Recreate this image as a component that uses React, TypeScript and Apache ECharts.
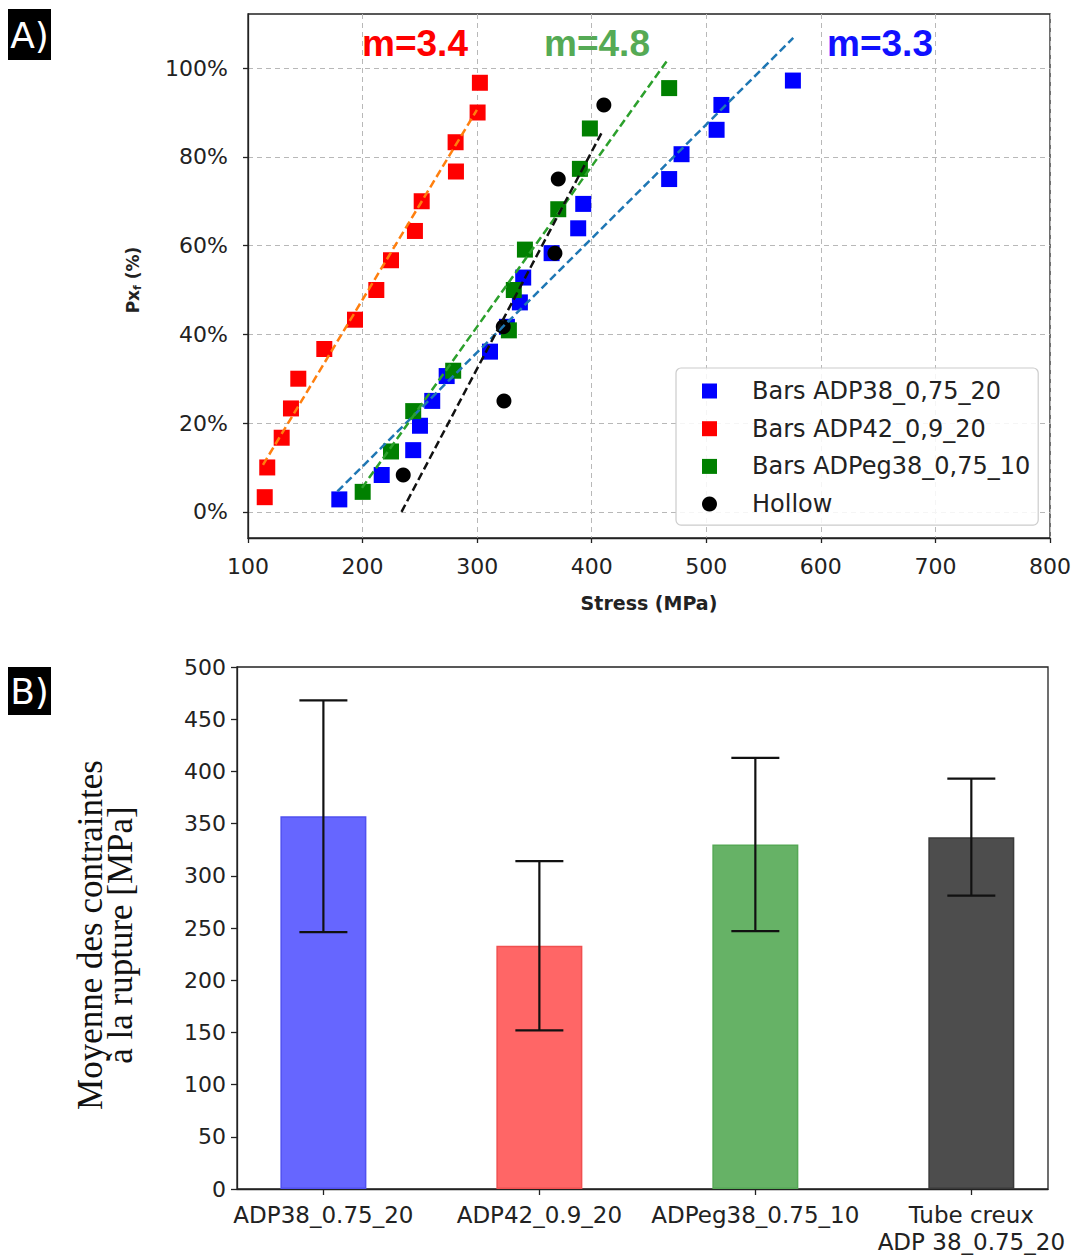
import React, { useEffect, useRef } from "react";
import * as echarts from "echarts";

// ---------- Panel A data (Stress MPa, probability %) ----------
const blueX = [179.7, 216.7, 244.2, 250.1, 260.8, 273.4, 311.2, 326, 337.3, 340.2, 365, 388.2, 392.6, 467.6, 478.4, 509, 513.2, 575.6];
const blueY = [2.8, 8.3, 13.9, 19.4, 25, 30.6, 36.1, 41.7, 47.2, 52.8, 58.3, 63.9, 69.4, 75, 80.6, 86.1, 91.7, 97.2];
const redX = [114.6, 116.8, 129.4, 137.5, 143.9, 166.6, 193.4, 212, 224.8, 245.7, 251.6, 281.5, 281.2, 300.4, 302.4];
const redY = [3.3, 10, 16.7, 23.3, 30, 36.7, 43.3, 50, 56.7, 63.3, 70, 76.7, 83.3, 90, 96.7];
const greenX = [200.1, 224.8, 244.2, 279.1, 327.7, 332, 341.7, 370.8, 389.7, 398.4, 467.6];
const greenY = [4.5, 13.6, 22.7, 31.8, 40.9, 50, 59.1, 68.2, 77.3, 86.4, 95.5];
const hollowX = [235.5, 323.4, 322.8, 367.9, 370.8, 410.6];
const hollowY = [8.3, 25, 41.7, 58.3, 75, 91.7];

// fitted lines endpoints [x, y]
const blueFit = [[178, 4.6], [575.9, 106.8]];
const redFit = [[113.1, 10.6], [299.8, 90.6]];
const greenFit = [[199.5, 5.4], [465.3, 101.5]];
const hollowFit = [[234, 0], [408.6, 85.4]];

const topYTicks = [0, 20, 40, 60, 80, 100];
const legendNames = ["Bars ADP38_0,75_20", "Bars ADP42_0,9_20", "Bars ADPeg38_0,75_10", "Hollow"];
const slopeLabels = ["m=3.4", "m=4.8", "m=3.3"];

// ---------- Panel B data ----------
const categories = ["ADP38_0.75_20", "ADP42_0.9_20", "ADPeg38_0.75_10", "Tube creux\nADP 38_0.75_20"];
const means = [357, 233, 330, 337];
const stdDevs = [111, 81, 83, 56];
const barColors = ["#6666ff", "#ff6666", "#66b266", "#4d4d4d"];
const barEdges = ["#5050f0", "#f05050", "#55a855", "#3a3a3a"];

const zip = (xs: number[], ys: number[]) => xs.map((x, i) => [x, ys[i]]);

export default function App() {
  const ref = useRef<HTMLDivElement>(null);
  useEffect(() => {
    if (!ref.current) return;
    const chart = echarts.init(ref.current, null, { renderer: "svg" });
    const tickFont = { fontFamily: "DejaVu Sans", color: "#222" };
    const dashed = (color: string) => ({ color, width: 2.5, type: [8, 4] as any });

    const option: any = {
      animation: false,
      backgroundColor: "#fff",
      grid: [
        { left: 248, top: 14, width: 802, height: 524, show: true, borderColor: "#222", borderWidth: 1.3, backgroundColor: "transparent" },
        { left: 237, top: 667, width: 811, height: 522, show: true, borderColor: "#222", borderWidth: 1.3, backgroundColor: "transparent" },
      ],
      xAxis: [
        {
          gridIndex: 0, type: "value", min: 100, max: 800, interval: 100,
          axisLine: { show: true, onZero: false, lineStyle: { color: "#222", width: 1.3 } },
          axisTick: { show: true, inside: false, length: 5, lineStyle: { color: "#222", width: 1.3 } },
          axisLabel: { ...tickFont, fontSize: 22, margin: 17 },
          splitLine: { show: true, lineStyle: { color: "#b8b8b8", width: 1, type: [5, 4] } },
          name: "Stress (MPa)", nameLocation: "middle", nameGap: 55,
          nameTextStyle: { fontFamily: "DejaVu Sans", fontWeight: "bold", fontSize: 19, color: "#222" },
        },
        {
          gridIndex: 1, type: "value", min: -0.4, max: 3.355,
          axisLine: { show: true, onZero: false, lineStyle: { color: "#222", width: 1.3 } },
          axisTick: { show: true, inside: false, length: 6, customValues: [0, 1, 2, 3], lineStyle: { color: "#222", width: 1.3 } },
          axisLabel: {
            ...tickFont, fontSize: 23, margin: 12, lineHeight: 27, customValues: [0, 1, 2, 3],
            formatter: (v: number) => categories[Math.round(v)] ?? "",
          },
          splitLine: { show: false },
        },
      ],
      yAxis: [
        {
          gridIndex: 0, type: "value", min: -5.9, max: 112.2,
          axisLine: { show: true, onZero: false, lineStyle: { color: "#222", width: 1.3 } },
          axisTick: { show: true, inside: false, length: 5, customValues: topYTicks, lineStyle: { color: "#222", width: 1.3 } },
          axisLabel: { ...tickFont, fontSize: 22, margin: 20, customValues: topYTicks, formatter: (v: number) => Math.round(v) + "%" },
          splitLine: { show: true, lineStyle: { color: "#b8b8b8", width: 1, type: [5, 4] } },
        },
        {
          gridIndex: 1, type: "value", min: 0, max: 500, interval: 50,
          axisLine: { show: true, onZero: false, lineStyle: { color: "#222", width: 1.3 } },
          axisTick: { show: true, inside: false, length: 6, lineStyle: { color: "#222", width: 1.3 } },
          axisLabel: { ...tickFont, fontSize: 22, margin: 11 },
          splitLine: { show: false },
        },
      ],
      legend: {
        left: 676, top: 368, orient: "vertical",
        data: [
          { name: legendNames[0], icon: "rect" },
          { name: legendNames[1], icon: "rect" },
          { name: legendNames[2], icon: "rect" },
          { name: legendNames[3], icon: "circle" },
        ],
        itemWidth: 15, itemHeight: 15, itemGap: 13.7,
        padding: [11, 8, 9, 26],
        borderColor: "#cccccc", borderWidth: 1.2, borderRadius: 5,
        backgroundColor: "rgba(255,255,255,0.85)",
        textStyle: { fontFamily: "DejaVu Sans", fontSize: 24, color: "#222", lineHeight: 22, padding: [0, 0, 0, 30] },
        selectedMode: false,
      },
      series: [
        { name: legendNames[0], type: "scatter", xAxisIndex: 0, yAxisIndex: 0, symbol: "rect", symbolSize: 16, itemStyle: { color: "#0000ff", opacity: 1 }, data: zip(blueX, blueY) },
        { name: legendNames[1], type: "scatter", xAxisIndex: 0, yAxisIndex: 0, symbol: "rect", symbolSize: 16, itemStyle: { color: "#ff0000", opacity: 1 }, data: zip(redX, redY) },
        { name: legendNames[2], type: "scatter", xAxisIndex: 0, yAxisIndex: 0, symbol: "rect", symbolSize: 16, itemStyle: { color: "#008000", opacity: 1 }, data: zip(greenX, greenY) },
        { name: legendNames[3], type: "scatter", xAxisIndex: 0, yAxisIndex: 0, symbol: "circle", symbolSize: 15, itemStyle: { color: "#000000", opacity: 1 }, data: zip(hollowX, hollowY) },
        { name: "fitBlue", type: "line", xAxisIndex: 0, yAxisIndex: 0, showSymbol: false, data: blueFit, lineStyle: dashed("#1f77b4") },
        { name: "fitRed", type: "line", xAxisIndex: 0, yAxisIndex: 0, showSymbol: false, data: redFit, lineStyle: dashed("#ff7f0e") },
        { name: "fitGreen", type: "line", xAxisIndex: 0, yAxisIndex: 0, showSymbol: false, data: greenFit, lineStyle: dashed("#2ca02c") },
        { name: "fitHollow", type: "line", xAxisIndex: 0, yAxisIndex: 0, showSymbol: false, data: hollowFit, lineStyle: dashed("#111111") },
        {
          name: "means", type: "bar", xAxisIndex: 1, yAxisIndex: 1, barWidth: 86,
          data: means.map((m, i) => ({ value: [i, m], itemStyle: { color: barColors[i], borderColor: barEdges[i], borderWidth: 1.5 } })),
        },
        {
          name: "errors", type: "custom", xAxisIndex: 1, yAxisIndex: 1, z: 5,
          data: means.map((m, i) => [i, m - stdDevs[i], m + stdDevs[i]]),
          renderItem: (params: any, api: any) => {
            const x = api.value(0);
            const lo = api.coord([x, api.value(1)]);
            const hi = api.coord([x, api.value(2)]);
            const hw = 24;
            const st = { stroke: "#111", lineWidth: 2.2 };
            return {
              type: "group",
              children: [
                { type: "line", shape: { x1: lo[0], y1: lo[1], x2: hi[0], y2: hi[1] }, style: st },
                { type: "line", shape: { x1: lo[0] - hw, y1: lo[1], x2: lo[0] + hw, y2: lo[1] }, style: st },
                { type: "line", shape: { x1: hi[0] - hw, y1: hi[1], x2: hi[0] + hw, y2: hi[1] }, style: st },
              ],
            };
          },
        },
      ],
      graphic: [
        { type: "rect", left: 8, top: 9, shape: { width: 43, height: 51 }, style: { fill: "#000" } },
        { type: "text", x: 29.5, y: 35, style: { text: "A)", fill: "#fff", font: "36px 'DejaVu Sans'", textAlign: "center", textVerticalAlign: "middle" } },
        { type: "rect", left: 8, top: 667, shape: { width: 43, height: 48 }, style: { fill: "#000" } },
        { type: "text", x: 29.5, y: 691, style: { text: "B)", fill: "#fff", font: "36px 'DejaVu Sans'", textAlign: "center", textVerticalAlign: "middle" } },
        { type: "text", x: 415, y: 43, style: { text: slopeLabels[0], fill: "#ff0000", font: "bold 37px 'Liberation Sans'", textAlign: "center", textVerticalAlign: "middle" } },
        { type: "text", x: 597, y: 43, style: { text: slopeLabels[1], fill: "#55aa55", font: "bold 37px 'Liberation Sans'", textAlign: "center", textVerticalAlign: "middle" } },
        { type: "text", x: 880, y: 43, style: { text: slopeLabels[2], fill: "#1010ff", font: "bold 37px 'Liberation Sans'", textAlign: "center", textVerticalAlign: "middle" } },
        {
          type: "text", x: 133, y: 280, rotation: Math.PI / 2,
          style: {
            text: "{a|Px}{s|f}{a| (%)}", textAlign: "center", textVerticalAlign: "middle",
            rich: {
              a: { fontFamily: "DejaVu Sans", fontWeight: "bold", fontSize: 17, fill: "#222" },
              s: { fontFamily: "DejaVu Sans", fontWeight: "bold", fontSize: 11, fill: "#222", padding: [8, 0, 0, 0] },
            },
          },
        },
        {
          type: "text", x: 105, y: 935, rotation: Math.PI / 2,
          style: {
            text: "Moyenne des contraintes\nà la rupture [MPa]", fill: "#111",
            font: "35px 'Liberation Serif'", lineHeight: 30, textAlign: "center", textVerticalAlign: "middle",
          },
        },
      ],
    };
    chart.setOption(option);
    return () => chart.dispose();
  }, []);
  return <div ref={ref} style={{ position: "absolute", left: 0, top: 0, width: 1075, height: 1260 }} />;
}
